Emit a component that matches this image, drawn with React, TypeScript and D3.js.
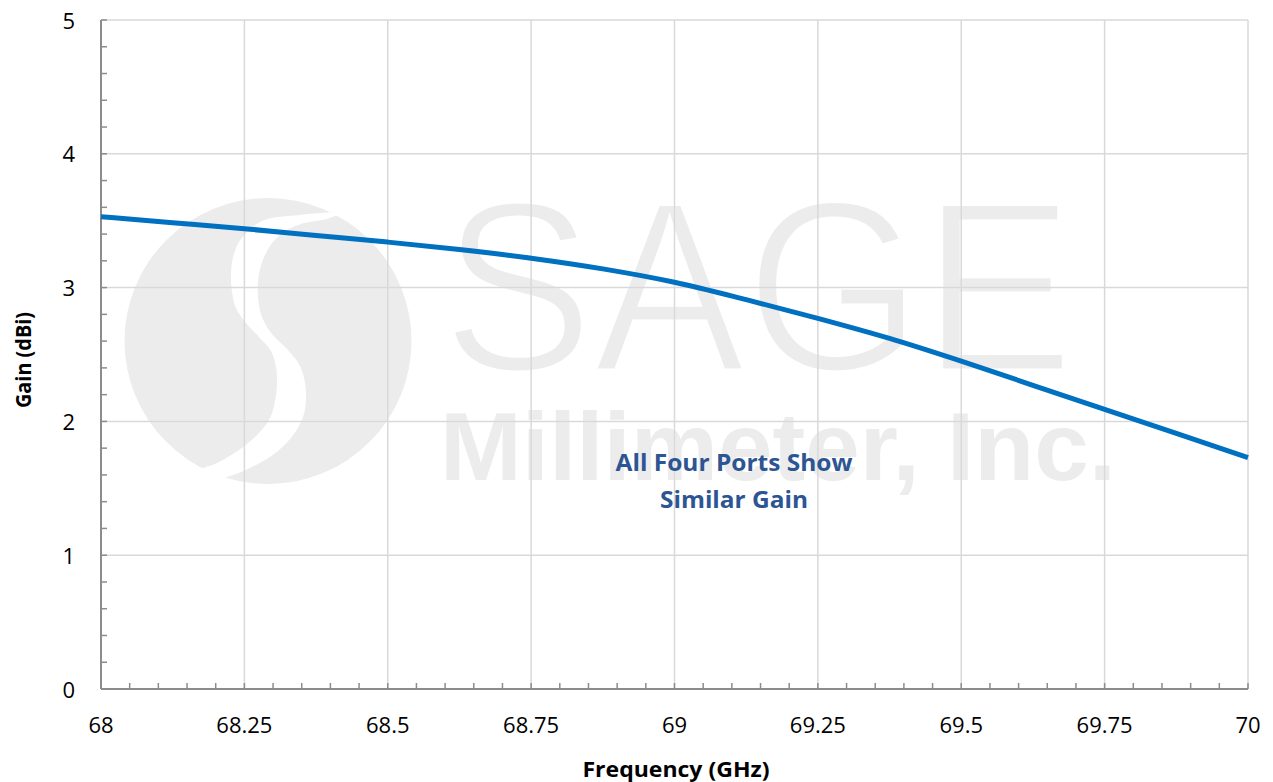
import React from "react";
import * as d3 from "d3";

const freqs = [68, 68.125, 68.25, 68.375, 68.5, 68.625, 68.75, 68.875, 69, 69.125, 69.25, 69.375, 69.5, 69.625, 69.75, 69.875, 70];
const gains = [3.53, 3.485, 3.44, 3.39, 3.34, 3.285, 3.22, 3.14, 3.04, 2.91, 2.77, 2.62, 2.45, 2.27, 2.09, 1.91, 1.73];
const xTicks = [68, 68.25, 68.5, 68.75, 69, 69.25, 69.5, 69.75, 70];
const yTicks = [0, 1, 2, 3, 4, 5];
const noteLines = ["All Four Ports Show", "Similar Gain"];

const W = 1273, H = 782;
const M = { left: 101, right: 1248, top: 20, bottom: 689 };

// decorative watermark logo outline (S-shaped gap inside a disc)
const logoGap: [number, number][] = [
  [340, 213], [300, 215], [262, 221], [241, 239], [233, 257], [231, 275], [232, 292], [236, 308], [246, 323],
  [259, 337], [271, 351], [276, 367], [277, 384], [275, 401], [270, 418], [258, 434], [239, 450], [217, 463], [202, 470],
  [212, 479], [233, 475], [258, 464], [278, 451], [294, 434], [303, 417], [306, 400], [305, 383], [300, 366],
  [288, 350], [272, 334], [262, 317], [258, 297], [259, 274], [267, 251], [281, 234], [301, 224], [327, 219],
];

export default function App() {
  const x = d3.scaleLinear().domain([68, 70]).range([M.left, M.right]);
  const y = d3.scaleLinear().domain([0, 5]).range([M.bottom, M.top]);
  const line = d3.line<number>().x((_, i) => x(freqs[i])).y((d) => y(d)).curve(d3.curveMonotoneX);
  const gapPath = d3.line().curve(d3.curveCatmullRomClosed)(logoGap) || "";
  const xMinor = d3.range(0, 41).map((i) => 68 + i * 0.05);
  const yMinor = d3.range(0, 26).map((i) => i * 0.2);
  const axisCol = "#8c8c8c";
  const gridCol = "#d9d9d9";
  const wm = "#ececec";
  const font = "'Open Sans', Lato, sans-serif";
  const cx = 268, cy = 341, r = 143;
  return (
    <svg width={W} height={H} style={{ position: "absolute", left: 0, top: 0, background: "#fff" }}>
      {/* watermark */}
      <g>
        <ellipse cx={cx} cy={cy} rx={r + 0.5} ry={r} fill={wm} />
        <path d={gapPath} fill="#fff" />
        <text x={442} y={371} fontFamily="'Liberation Sans', Arial, sans-serif" fontSize={244} fill={wm}
          stroke="#fff" strokeWidth={5} textLength={632} lengthAdjust="spacingAndGlyphs">SAGE</text>
        <text x={440} y={480} fontFamily="'Liberation Sans Narrow', 'Liberation Sans', Arial, sans-serif" fontWeight="bold" fontSize={97} fill={wm}
          textLength={676} lengthAdjust="spacingAndGlyphs">Millimeter, Inc.</text>
      </g>
      {/* gridlines */}
      {xTicks.slice(1).map((t) => (
        <line key={"gx" + t} x1={x(t)} x2={x(t)} y1={M.top} y2={M.bottom} stroke={gridCol} strokeWidth={1.5} />
      ))}
      {yTicks.slice(1).map((t) => (
        <line key={"gy" + t} x1={M.left} x2={M.right} y1={y(t)} y2={y(t)} stroke={gridCol} strokeWidth={1.5} />
      ))}
      {/* axes */}
      <line x1={M.left} x2={M.left} y1={M.top} y2={M.bottom} stroke={axisCol} strokeWidth={2} />
      <line x1={M.left} x2={M.right} y1={M.bottom} y2={M.bottom} stroke={axisCol} strokeWidth={2} />
      {xMinor.map((t, i) => (
        <line key={"tx" + i} x1={x(t)} x2={x(t)} y1={M.bottom} y2={M.bottom - 6} stroke={axisCol} strokeWidth={1.5} />
      ))}
      {yMinor.map((t, i) => (
        <line key={"ty" + i} x1={M.left} x2={M.left + 6} y1={y(t)} y2={y(t)} stroke={axisCol} strokeWidth={1.5} />
      ))}
      {/* tick labels */}
      {xTicks.map((t) => (
        <text key={"lx" + t} x={x(t)} y={733} textAnchor="middle" fontFamily={font} fontSize={22} fill="#000">{String(t)}</text>
      ))}
      {yTicks.map((t) => (
        <text key={"ly" + t} x={75} y={y(t) + 8.5} textAnchor="end" fontFamily={font} fontSize={22} fill="#000">{String(t)}</text>
      ))}
      {/* axis titles */}
      <text x={676} y={777} textAnchor="middle" fontFamily={font} fontWeight="bold" fontSize={21}
        textLength={187} lengthAdjust="spacingAndGlyphs" fill="#000">Frequency (GHz)</text>
      <text transform={`translate(31,${360}) rotate(-90)`} textAnchor="middle" fontFamily={font} fontWeight="bold" fontSize={21}
        textLength={96} lengthAdjust="spacingAndGlyphs" fill="#000">Gain (dBi)</text>
      {/* data line */}
      <path d={line(gains) || ""} fill="none" stroke="#0070C0" strokeWidth={5} />
      {/* note */}
      {noteLines.map((s, i) => (
        <text key={s} x={734} y={471 + i * 37} textAnchor="middle" fontFamily={font} fontWeight="bold" fontSize={23}
          textLength={i === 0 ? 237 : 148} lengthAdjust="spacingAndGlyphs" fill="#2D5593">{s}</text>
      ))}
    </svg>
  );
}
